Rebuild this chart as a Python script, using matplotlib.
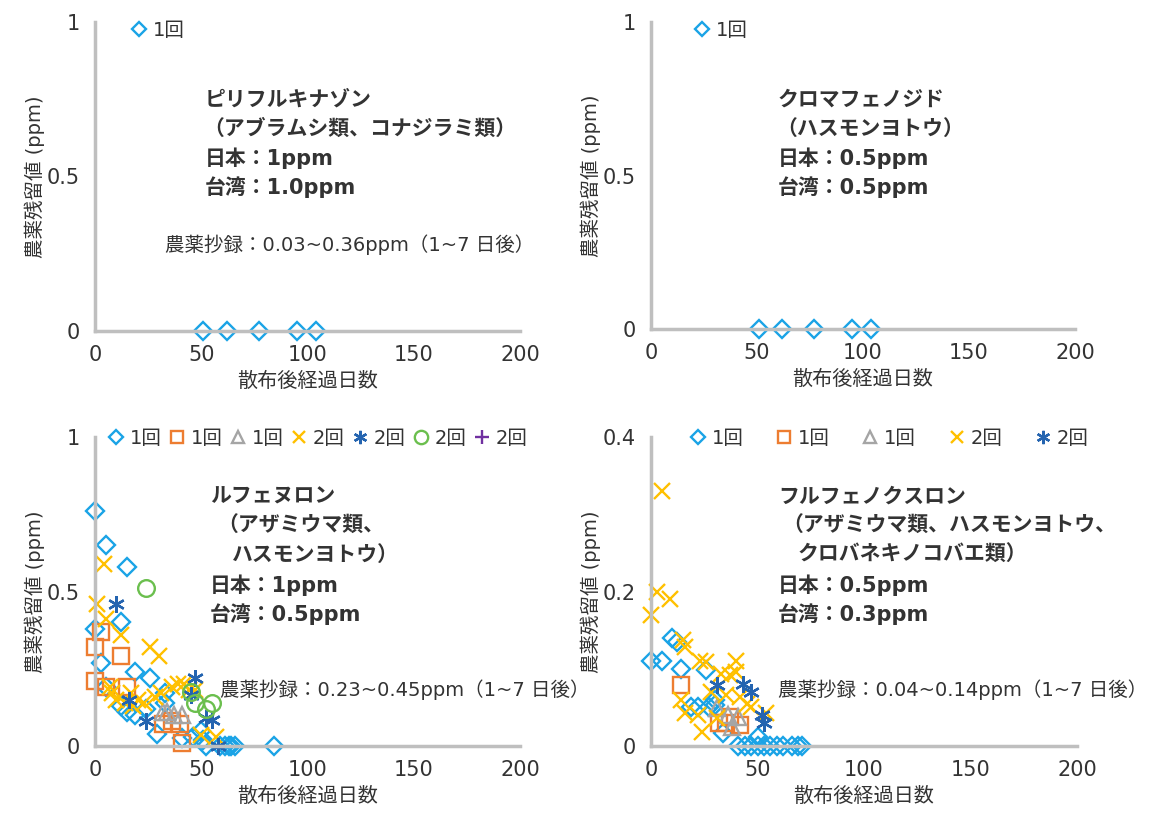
import numpy as np
import matplotlib
matplotlib.use("Agg")
from matplotlib import pyplot as plt

# Latin text in DejaVu, kana/kanji fall back to Noto CJK
plt.rcParams['font.family'] = ['DejaVu Sans', 'Noto Sans CJK JP']

W, H = 1161, 815

# ピリフルキナゾン / クロマフェノジド (1回散布)
once_days = [51, 62, 77, 95, 104]
once_vals = [0, 0, 0, 0, 0]

# ルフェヌロン
luf_d1_days = [0, 5, 15, 0, 12, 3, 19, 26, 5, 12, 15, 19, 24, 29, 33, 33, 41, 46, 50, 51, 52, 59, 61, 63, 64, 66, 84]
luf_d1_vals = [0.76, 0.65, 0.58, 0.38, 0.40, 0.27, 0.24, 0.22, 0.19, 0.13, 0.11, 0.10, 0.12, 0.04, 0.17, 0.14, 0.025, 0.03, 0.05, 0.02, 0, 0, 0, 0, 0, 0, 0]
luf_d2_days = [3, 0, 12, 0, 5, 15, 32, 36, 40, 41]
luf_d2_vals = [0.37, 0.32, 0.29, 0.21, 0.19, 0.19, 0.07, 0.08, 0.07, 0.01]
luf_d3_days = [32, 34, 37, 41]
luf_d3_vals = [0.11, 0.11, 0.10, 0.10]
luf_d4_days = [4, 1, 5, 12, 26, 30, 7, 8, 17, 20, 23, 28, 31, 36, 39, 42, 47, 18, 50, 57, 10, 14, 44]
luf_d4_vals = [0.59, 0.46, 0.41, 0.36, 0.32, 0.29, 0.19, 0.17, 0.17, 0.15, 0.14, 0.16, 0.17, 0.19, 0.20, 0.20, 0.18, 0.13, 0.035, 0.03, 0.15, 0.14, 0.18]
luf_d5_days = [10, 16, 24, 47, 45, 52, 55, 58]
luf_d5_vals = [0.46, 0.15, 0.08, 0.22, 0.165, 0.09, 0.085, 0.0]
luf_d6_days = [24, 45, 47, 52, 55]
luf_d6_vals = [0.51, 0.175, 0.14, 0.12, 0.14]
luf_d7_days = []
luf_d7_vals = []

# フルフェノクスロン
flu_d1_days = [0, 5, 10, 12, 14, 19, 22, 26, 27, 30, 30, 34, 50, 41, 44, 47, 50, 53, 56, 59, 62, 66, 69, 71]
flu_d1_vals = [0.11, 0.11, 0.14, 0.135, 0.10, 0.05, 0.05, 0.098, 0.05, 0.053, 0.06, 0.017, 0.012, 0, 0, 0, 0, 0, 0, 0, 0, 0, 0, 0]
flu_d2_days = [14, 32, 35, 37, 42]
flu_d2_vals = [0.079, 0.03, 0.03, 0.038, 0.027]
flu_d3_days = [31, 36, 38, 41]
flu_d3_vals = [0.049, 0.04, 0.025, 0.038]
flu_d4_days = [5, 3, 9, 0, 15, 16, 23, 26, 14, 16, 22, 24, 40, 33, 37, 40, 35, 42, 45, 54, 31, 47, 28]
flu_d4_vals = [0.33, 0.20, 0.19, 0.17, 0.137, 0.128, 0.11, 0.109, 0.06, 0.043, 0.04, 0.018, 0.11, 0.093, 0.092, 0.096, 0.066, 0.063, 0.055, 0.043, 0.036, 0.05, 0.07]
flu_d5_days = [31, 43, 47, 52, 53]
flu_d5_vals = [0.079, 0.08, 0.07, 0.04, 0.03]

blue = '#1AA3E6'
orange = '#ED7D31'
gray = '#A5A5A5'
yellow = '#FFC000'
navy = '#2464B0'
green = '#6BBF4E'
purple = '#7030A0'
txt = '#333333'

styles = [
    dict(marker='D', color=blue, ms=9, mfc='none', mew=1.7),
    dict(marker='s', color=orange, ms=11, mfc='none', mew=1.7),
    dict(marker='^', color=gray, ms=11, mfc='none', mew=1.7),
    dict(marker='x', color=yellow, ms=11, mew=1.7),
    dict(marker=(6, 2, 0), color=navy, ms=12, mew=1.7),
    dict(marker='o', color=green, ms=12, mfc='none', mew=1.7),
    dict(marker='+', color=purple, ms=12, mew=1.7),
]
labels = ['1回', '1回', '1回', '2回', '2回', '2回', '2回']


def px_axes(left, top, right, bottom):
    return [left / W, 1 - bottom / H, (right - left) / W, (bottom - top) / H]


def ftext(x, y, s, **kw):
    fig.text(x / W, 1 - y / H, s, va='center', ha='left', color=txt, **kw)


def setup(ax, ymax, yticks, yticklabels):
    ax.set_xlim(0, 200)
    ax.set_ylim(0, ymax)
    ax.set_xticks([0, 50, 100, 150, 200])
    ax.set_yticks(yticks)
    ax.set_yticklabels(yticklabels)
    for s in ['top', 'right']:
        ax.spines[s].set_visible(False)
    for s in ['left', 'bottom']:
        ax.spines[s].set_color('#BFBFBF')
        ax.spines[s].set_linewidth(2.5)
    ax.tick_params(length=0, labelsize=15, labelcolor=txt)
    ax.tick_params(axis='x', pad=10)
    ax.tick_params(axis='y', pad=11)
    ax.set_xlabel('散布後経過日数', fontsize=14.5, color=txt, labelpad=5)
    ax.set_ylabel('農薬残留値 (ppm)', fontsize=14, color=txt, labelpad=1)
    ax.patch.set_alpha(0)


fig = plt.figure(figsize=(W / 100, H / 100), dpi=100)

ax1 = fig.add_axes(px_axes(95, 22, 520, 331))
ax2 = fig.add_axes(px_axes(651, 22, 1075, 329))
ax3 = fig.add_axes(px_axes(95, 437, 520, 746))
ax4 = fig.add_axes(px_axes(651, 437, 1077, 746))

setup(ax1, 1, [0, 0.5, 1], ['0', '0.5', '1'])
setup(ax2, 1, [0, 0.5, 1], ['0', '0.5', '1'])
setup(ax3, 1, [0, 0.5, 1], ['0', '0.5', '1'])
setup(ax4, 0.4, [0, 0.2, 0.4], ['0', '0.2', '0.4'])

for ax in [ax1, ax2]:
    ax.plot(once_days, once_vals, ls='none', label='1回', clip_on=False, **styles[0])

luf = [(luf_d1_days, luf_d1_vals), (luf_d2_days, luf_d2_vals), (luf_d3_days, luf_d3_vals),
       (luf_d4_days, luf_d4_vals), (luf_d5_days, luf_d5_vals), (luf_d6_days, luf_d6_vals),
       (luf_d7_days, luf_d7_vals)]
for (d, v), st, lb in zip(luf, styles, labels):
    ax3.plot(d, v, ls='none', label=lb, clip_on=False, **st)

flu = [(flu_d1_days, flu_d1_vals), (flu_d2_days, flu_d2_vals), (flu_d3_days, flu_d3_vals),
       (flu_d4_days, flu_d4_vals), (flu_d5_days, flu_d5_vals)]
for (d, v), st, lb in zip(flu, styles, labels):
    ax4.plot(d, v, ls='none', label=lb, clip_on=False, **st)

leg_kw = dict(frameon=False, fontsize=14, handlelength=0.8, handletextpad=0.3,
              borderaxespad=0, borderpad=0, bbox_transform=fig.transFigure, loc='center left',
              labelcolor=txt, markerscale=0.8)
ax1.legend(bbox_to_anchor=(131 / W, 1 - 30 / H), **leg_kw)
ax2.legend(bbox_to_anchor=(694 / W, 1 - 30 / H), **leg_kw)
ax3.legend(bbox_to_anchor=(108 / W, 1 - 438 / H), ncol=7, columnspacing=0.4, **leg_kw)
ax4.legend(bbox_to_anchor=(690 / W, 1 - 438 / H), ncol=5, columnspacing=1.7, **leg_kw)

bold = dict(fontsize=15, fontweight='bold')
note = dict(fontsize=14)

ftext(205, 100, 'ピリフルキナゾン', **bold)
ftext(203, 129, '（アブラムシ類、コナジラミ類）', **bold)
ftext(205, 158, '日本：1ppm', **bold)
ftext(205, 187, '台湾：1.0ppm', **bold)
ftext(165, 245, '農薬抄録：0.03~0.36ppm（1~7 日後）', **note)

ftext(778, 100, 'クロマフェノジド', **bold)
ftext(776, 129, '（ハスモンヨトウ）', **bold)
ftext(778, 158, '日本：0.5ppm', **bold)
ftext(778, 187, '台湾：0.5ppm', **bold)

ftext(210, 497, 'ルフェヌロン', **bold)
ftext(217, 526, '（アザミウマ類、', **bold)
ftext(232, 555, 'ハスモンヨトウ）', **bold)
ftext(210, 585, '日本：1ppm', **bold)
ftext(210, 614, '台湾：0.5ppm', **bold)
ftext(220, 690, '農薬抄録：0.23~0.45ppm（1~7 日後）', **note)

ftext(778, 497, 'フルフェノクスロン', **bold)
ftext(782, 526, '（アザミウマ類、ハスモンヨトウ、', **bold)
ftext(798, 555, 'クロバネキノコバエ類）', **bold)
ftext(778, 585, '日本：0.5ppm', **bold)
ftext(778, 614, '台湾：0.3ppm', **bold)
ftext(778, 690, '農薬抄録：0.04~0.14ppm（1~7 日後）', **note)

fig.savefig('out.png', dpi=100)
